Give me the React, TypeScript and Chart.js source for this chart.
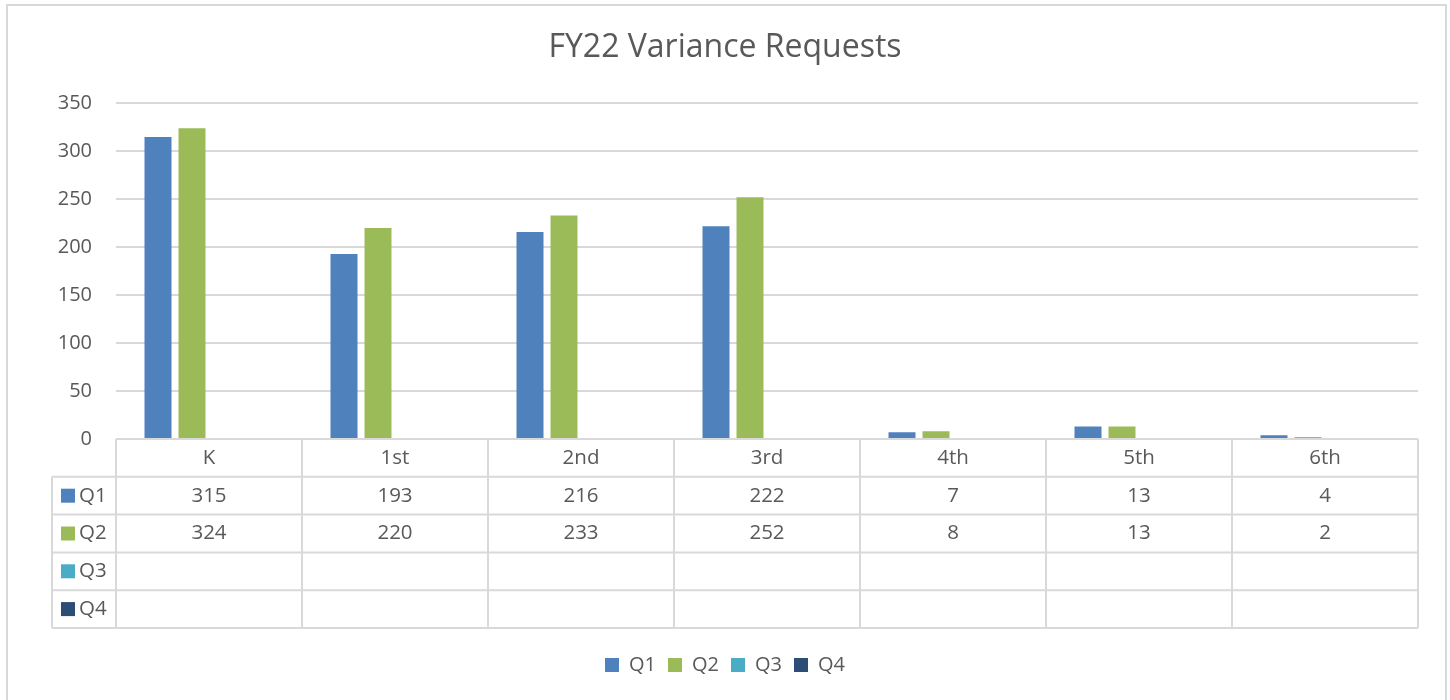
import React, { useEffect, useRef } from 'react';
import { Chart, registerables } from 'chart.js';

Chart.register(...registerables);

const categories = ['K', '1st', '2nd', '3rd', '4th', '5th', '6th'];
const seriesNames = ['Q1', 'Q2', 'Q3', 'Q4'];
const q1Values: (number | null)[] = [315, 193, 216, 222, 7, 13, 4];
const q2Values: (number | null)[] = [324, 220, 233, 252, 8, 13, 2];
const q3Values: (number | null)[] = [null, null, null, null, null, null, null];
const q4Values: (number | null)[] = [null, null, null, null, null, null, null];
const seriesColors = ['#4f81bd', '#9bbb59', '#4bacc6', '#2c4d75'];
const yMax = 350;
const yStep = 50;
const titleText = 'FY22 Variance Requests';

const FONT = '"Open Sans", Lato, sans-serif';
const TEXT = '#595959';
const LINE = '#d9d9d9';

const allSeries = [q1Values, q2Values, q3Values, q4Values];

const framePlugin = {
  id: 'frame',
  beforeDraw(chart: any) {
    const ctx = chart.ctx;
    ctx.save();
    ctx.fillStyle = '#ffffff';
    ctx.fillRect(0, 0, chart.width, chart.height);
    ctx.strokeStyle = LINE;
    ctx.lineWidth = 2;
    ctx.strokeRect(7, 5, 1439, 710);
    ctx.restore();
  },
};

const tablePlugin = {
  id: 'dataTable',
  afterDraw(chart: any) {
    const ctx = chart.ctx;
    const area = chart.chartArea;
    const xs = chart.scales.x;
    const rowH = 37.8;
    const top = area.bottom;
    const keyLeft = 52;
    const nRows = 1 + allSeries.length;
    const bottom = top + nRows * rowH;
    const half = (xs.getPixelForValue(1) - xs.getPixelForValue(0)) / 2;
    ctx.save();
    ctx.strokeStyle = LINE;
    ctx.lineWidth = 2;
    ctx.beginPath();
    for (let i = 0; i <= nRows; i++) {
      const y = top + i * rowH;
      ctx.moveTo(i === 0 ? area.left : keyLeft, y);
      ctx.lineTo(area.right, y);
    }
    for (let j = 0; j <= categories.length; j++) {
      const bx = j < categories.length ? xs.getPixelForValue(j) - half : xs.getPixelForValue(j - 1) + half;
      ctx.moveTo(bx, top);
      ctx.lineTo(bx, bottom);
    }
    ctx.moveTo(keyLeft, top + rowH);
    ctx.lineTo(keyLeft, bottom);
    ctx.stroke();

    ctx.fillStyle = TEXT;
    ctx.font = `20.5px ${FONT}`;
    ctx.textAlign = 'center';
    ctx.textBaseline = 'middle';
    categories.forEach((c, j) => {
      ctx.fillText(c, xs.getPixelForValue(j), top + rowH / 2);
    });
    allSeries.forEach((vals, r) => {
      const cy = top + (r + 1) * rowH + rowH / 2;
      vals.forEach((v, j) => {
        if (v !== null && v !== undefined) {
          ctx.fillStyle = TEXT;
          ctx.textAlign = 'center';
          ctx.fillText(String(v), xs.getPixelForValue(j), cy);
        }
      });
      ctx.fillStyle = seriesColors[r];
      ctx.fillRect(61, cy - 7, 14, 14);
      ctx.fillStyle = TEXT;
      ctx.textAlign = 'left';
      ctx.fillText(seriesNames[r], 79, cy);
    });
    ctx.restore();
  },
};

export default function App() {
  const ref = useRef<HTMLCanvasElement | null>(null);
  useEffect(() => {
    if (!ref.current) return;
    const chart = new Chart(ref.current, {
      type: 'bar',
      data: {
        labels: categories,
        datasets: allSeries.map((vals, i) => ({
          label: seriesNames[i],
          data: vals,
          backgroundColor: seriesColors[i],
          borderWidth: 0,
          categoryPercentage: 136 / 186,
          barPercentage: 27 / 34,
          yAxisID: 'y',
        })),
      },
      options: {
        responsive: false,
        animation: false,
        devicePixelRatio: 1,
        layout: { padding: { top: 0, left: 0, right: 0, bottom: 15 } },
        plugins: {
          title: {
            display: true,
            text: titleText,
            color: TEXT,
            font: { family: FONT, size: 32, weight: 'normal' },
            padding: { top: 29, bottom: 36 },
          },
          legend: {
            position: 'bottom',
            labels: {
              color: TEXT,
              font: { family: FONT, size: 20 },
              boxWidth: 14,
              boxHeight: 14,
              padding: 12,
            },
          },
          tooltip: { enabled: false },
        },
        scales: {
          x: {
            type: 'category',
            grid: { display: false },
            border: { display: false },
            ticks: { display: false },
            afterFit: (s: any) => {
              s.height = 204;
            },
          },
          y: {
            type: 'linear',
            position: 'left',
            min: 0,
            max: yMax,
            ticks: {
              stepSize: yStep,
              color: TEXT,
              font: { family: FONT, size: 20 },
              padding: 24,
            },
            grid: { color: LINE, lineWidth: 2, drawTicks: false },
            border: { display: false },
            afterFit: (s: any) => {
              s.width = 116;
            },
          },
          yRight: {
            type: 'linear',
            position: 'right',
            display: true,
            grid: { display: false },
            border: { display: false },
            ticks: { display: false },
            afterFit: (s: any) => {
              s.width = 32;
            },
          },
        },
      },
      plugins: [framePlugin, tablePlugin],
    } as any);
    return () => chart.destroy();
  }, []);
  return (
    <div style={{ position: 'absolute', left: 0, top: 0, width: 1450, height: 700 }}>
      <canvas ref={ref} width={1450} height={700} />
    </div>
  );
}
